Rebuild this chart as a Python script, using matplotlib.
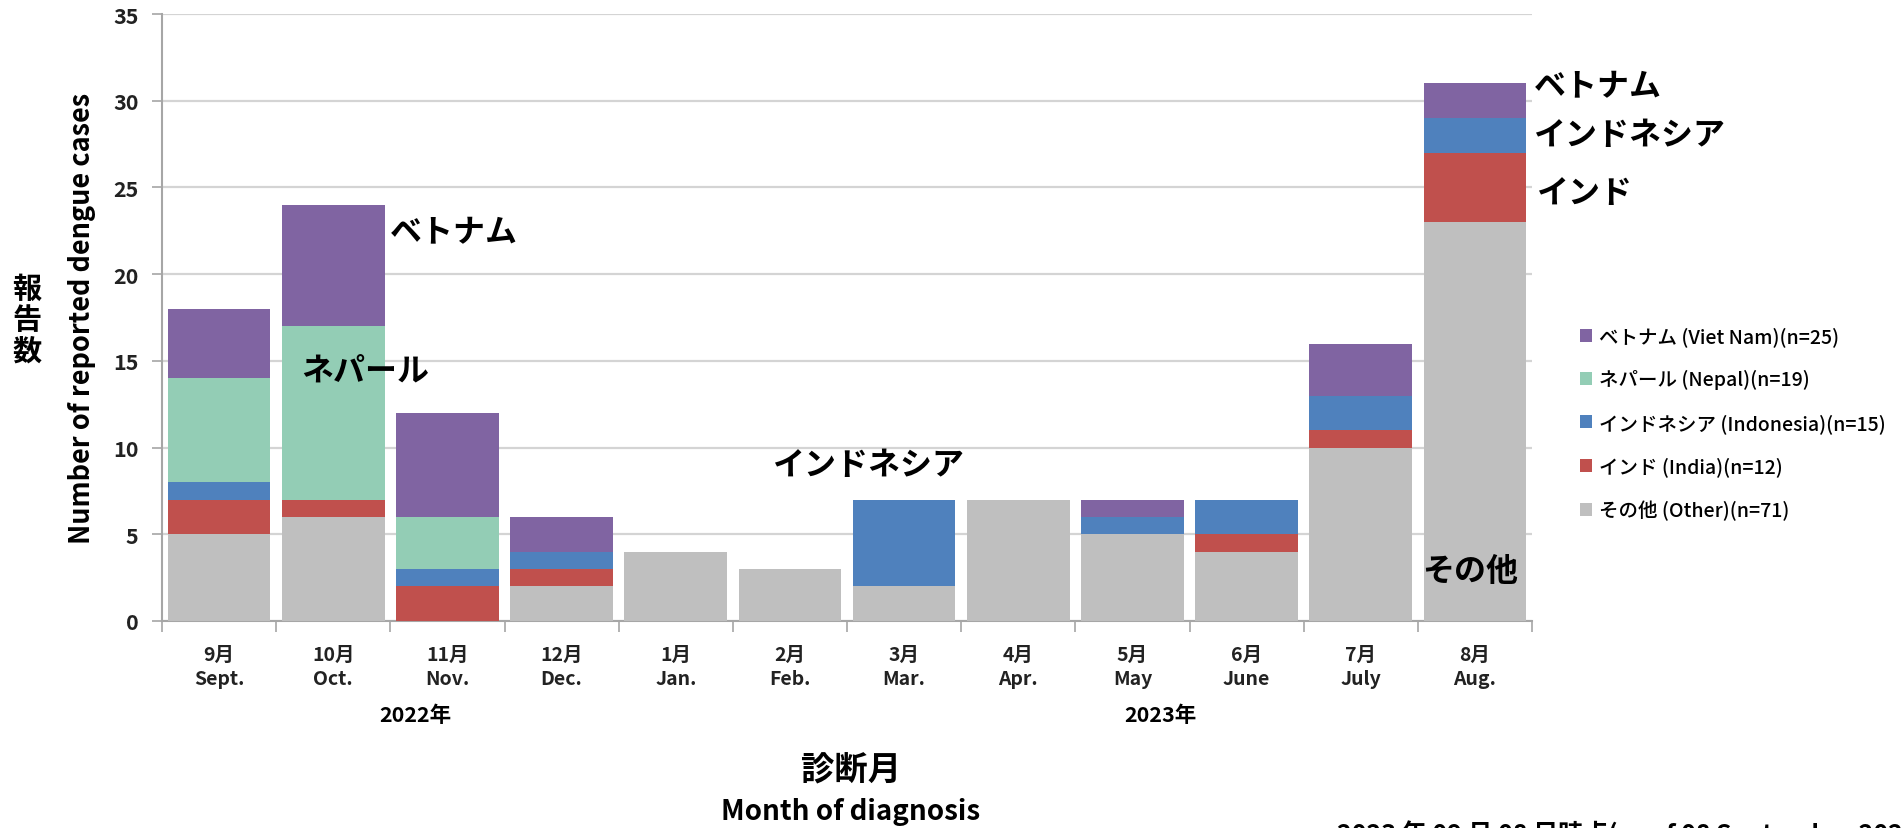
import numpy as np
import matplotlib.pyplot as plt

plt.rcParams['font.family'] = ['Noto Sans CJK JP', 'DejaVu Sans']

# monthly dengue case counts by country of infection, Sept 2022 - Aug 2023
months_jp = ['9月', '10月', '11月', '12月', '1月', '2月', '3月', '4月', '5月', '6月', '7月', '8月']
months_en = ['Sept.', 'Oct.', 'Nov.', 'Dec.', 'Jan.', 'Feb.', 'Mar.', 'Apr.', 'May', 'June', 'July', 'Aug.']
other = [5, 6, 0, 2, 4, 3, 2, 7, 5, 4, 10, 23]
india = [2, 1, 2, 1, 0, 0, 0, 0, 0, 1, 1, 4]
indonesia = [1, 0, 1, 1, 0, 0, 5, 0, 1, 2, 2, 2]
nepal = [6, 10, 3, 0, 0, 0, 0, 0, 0, 0, 0, 0]
vietnam = [4, 7, 6, 2, 0, 0, 0, 0, 1, 0, 3, 2]

series = [
    ('その他 (Other)(n=71)', other, '#BFBFBF'),
    ('インド (India)(n=12)', india, '#C0504D'),
    ('インドネシア (Indonesia)(n=15)', indonesia, '#4F81BD'),
    ('ネパール (Nepal)(n=19)', nepal, '#93CDB5'),
    ('ベトナム (Viet Nam)(n=25)', vietnam, '#8064A2'),
]

W, H = 1901, 829
fig = plt.figure(figsize=(W / 100, H / 100), dpi=100)
ax = fig.add_axes([162 / W, 1 - 622 / H, (1532 - 162) / W, (622 - 15) / H])

x = np.arange(len(months_jp))
bottom = np.zeros(len(x))
for label, vals, color in series:
    vals = np.array(vals, dtype=float)
    ax.bar(x, vals, width=0.9, bottom=bottom, color=color, label=label, zorder=3)
    bottom += vals

ax.set_xlim(-0.5, len(x) - 0.5)
ax.set_ylim(0, 35)
ax.set_yticks(np.arange(0, 36, 5))
ax.yaxis.grid(True, color='#D4D4D4', lw=1.6, zorder=0)
for s in ['top', 'right']:
    ax.spines[s].set_visible(False)
for s in ['left', 'bottom']:
    ax.spines[s].set_color('#A6A6A6')
    ax.spines[s].set_linewidth(1.5)

ax.tick_params(axis='y', length=7, width=1.2, color='#A6A6A6', labelsize=15.5, pad=10)
for t in ax.get_yticklabels():
    t.set_fontweight('bold')
    t.set_color('#222222')

# month labels at bar centres, tick marks at category boundaries
ax.set_xticks(x)
ax.set_xticklabels([f'{j}\n{e}' for j, e in zip(months_jp, months_en)],
                   fontsize=14, fontweight='bold', linespacing=1.35, color='#222222')
ax.tick_params(axis='x', which='major', length=0, pad=17)
ax.set_xticks(np.arange(-0.5, len(x)), minor=True)
ax.tick_params(axis='x', which='minor', length=8, width=1.2, color='#A6A6A6')

ax.set_ylabel('Number of reported dengue cases', fontsize=19.5, fontweight='bold', labelpad=12)
fig.text(27 / W, 1 - 320 / H, '報\n告\n数', fontsize=21, fontweight='bold',
         ha='center', va='center', linespacing=1.05)

# country callouts
txt = dict(fontsize=23, fontweight='bold', clip_on=False, zorder=5)
ax.text(1.5, 22.4, 'ベトナム', ha='left', va='center', **txt)
ax.text(0.72, 14.4, 'ネパール', ha='left', va='center', **txt)
ax.text(5.69, 9.0, 'インドネシア', ha='center', va='center', **txt)
ax.text(11.52, 30.85, 'ベトナム', ha='left', va='center', **txt)
ax.text(11.52, 28.0, 'インドネシア', ha='left', va='center', **txt)
ax.text(11.54, 24.7, 'インド', ha='left', va='center', **txt)
ax.text(10.96, 2.9, 'その他', ha='center', va='center', **txt)

fig.text(415 / W, 1 - 716 / H, '2022年', fontsize=15.5, fontweight='bold', ha='center', va='center')
fig.text(1160 / W, 1 - 716 / H, '2023年', fontsize=15.5, fontweight='bold', ha='center', va='center')
fig.text(851 / W, 1 - 771 / H, '診断月', fontsize=24, fontweight='bold', ha='center', va='center')
fig.text(851 / W, 1 - 812 / H, 'Month of diagnosis', fontsize=20, fontweight='bold',
         ha='center', va='center')
fig.text(1337 / W, 1 - 820 / H, '2023 年 09 月 08 日時点(as of 08 September 2023)', fontsize=18,
         fontweight='bold', ha='left', va='top')

handles, labels = ax.get_legend_handles_labels()
leg = ax.legend(handles[::-1], labels[::-1], loc='center left',
                bbox_to_anchor=(1562 / W, 1 - 424 / H), bbox_transform=fig.transFigure,
                frameon=False, fontsize=14, handlelength=0.65, handleheight=0.65,
                handletextpad=0.35, labelspacing=1.2)
for t in leg.get_texts():
    t.set_fontweight('medium')

fig.savefig('out.png', dpi=100)
